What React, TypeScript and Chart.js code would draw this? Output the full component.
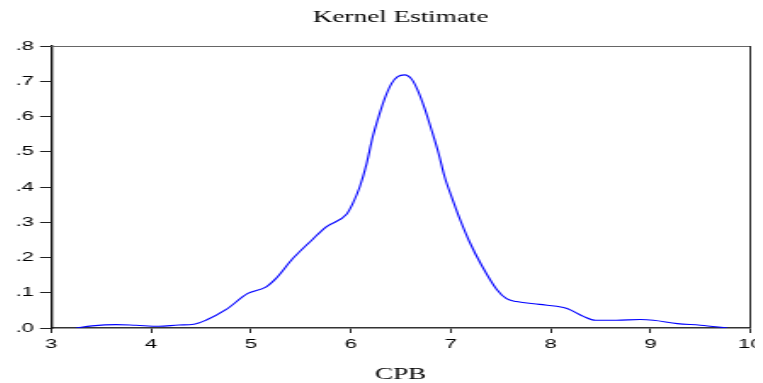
import React, { useEffect, useRef } from "react";
import { Chart, registerables } from "chart.js";

Chart.register(...registerables);

const titleText = "Kernel Estimate";
const xTitle = "CPB";

const xValues = [
  3.25, 3.41, 3.65, 3.85, 4.08, 4.28, 4.43, 4.55, 4.75, 4.97, 5.15, 5.25, 5.42, 5.62, 5.755,
  5.956, 6.02, 6.09, 6.16, 6.22, 6.29, 6.34, 6.41, 6.47, 6.54, 6.61, 6.67, 6.74, 6.81, 6.88, 6.94,
  7.01, 7.09, 7.19, 7.31, 7.46, 7.56, 7.66, 7.89, 8.13, 8.21, 8.33, 8.45, 8.66, 8.9, 9.03, 9.27,
  9.5, 9.77,
];
const densityValues = [
  0.0, 0.006, 0.0096, 0.0077, 0.005, 0.0085, 0.0105, 0.022, 0.052, 0.098, 0.116, 0.14, 0.197,
  0.252, 0.287, 0.322, 0.353, 0.4, 0.467, 0.542, 0.609, 0.651, 0.694, 0.713, 0.718, 0.706, 0.675,
  0.623, 0.561, 0.495, 0.429, 0.372, 0.311, 0.244, 0.178, 0.11, 0.083, 0.075, 0.067, 0.058, 0.05,
  0.033, 0.022, 0.022, 0.024, 0.022, 0.0125, 0.008, 0.0,
];

const xMin = 3;
const xMax = 10;
const yMin = 0;
const yMax = 0.8;

const fmtY = (v: number) => {
  const s = v.toFixed(1);
  return s.startsWith("0") ? s.slice(1) : s;
};

const framePlugin = {
  id: "frame",
  afterDraw(chart: any) {
    const { ctx, chartArea } = chart;
    ctx.save();
    ctx.strokeStyle = "#666";
    ctx.lineWidth = 1;
    ctx.beginPath();
    ctx.moveTo(chartArea.left, chartArea.top + 0.5);
    ctx.lineTo(chartArea.right, chartArea.top + 0.5);
    ctx.stroke();
    ctx.strokeStyle = "#222";
    ctx.lineWidth = 1;
    ctx.beginPath();
    ctx.moveTo(chartArea.right, chartArea.top);
    ctx.lineTo(chartArea.right, chartArea.bottom);
    ctx.stroke();
    ctx.restore();
  },
};

// internal canvas is narrower and stretched horizontally by CSS, like the reference
const INTERNAL_W = 444;
const DISPLAY_W = 755;
const H = 375;

export default function App() {
  const ref = useRef<HTMLCanvasElement>(null);
  useEffect(() => {
    if (!ref.current) return;
    const chart = new Chart(ref.current, {
      type: "line",
      data: {
        datasets: [
          {
            data: xValues.map((x, i) => ({ x, y: densityValues[i] })),
            borderColor: "#0000ff",
            borderWidth: 1.1,
            pointRadius: 0,
            cubicInterpolationMode: "monotone",
            fill: false,
          },
        ],
      },
      options: {
        responsive: false,
        animation: false,
        layout: { padding: { left: 0, right: 7.5, top: 0, bottom: 0 } },
        plugins: {
          legend: { display: false },
          tooltip: { enabled: false },
          title: {
            display: true,
            fullSize: false,
            text: titleText,
            color: "#000",
            font: { family: "Liberation Serif", size: 16, weight: "normal" },
            padding: { top: 0, bottom: 18.8 },
          },
        },
        scales: {
          x: {
            type: "linear",
            min: xMin,
            max: xMax,
            afterFit: (scale: any) => {
              scale.paddingRight = 0;
              scale.paddingLeft = 0;
            },
            ticks: {
              stepSize: 1,
              color: "#000",
              font: { family: "Liberation Sans", size: 13 },
              padding: 3.5,
              maxRotation: 0,
            },
            grid: { drawOnChartArea: false, drawTicks: true, tickLength: 5, color: "#222", lineWidth: 1 },
            border: { display: true, color: "#333", width: 1.5 },
            title: {
              display: true,
              text: xTitle,
              color: "#000",
              font: { family: "Liberation Serif", size: 16, weight: "normal" },
              padding: { top: 9.2, bottom: -1 },
            },
          },
          y: {
            type: "linear",
            min: yMin,
            max: yMax,
            afterFit: (scale: any) => {
              scale.width = 25.3;
            },
            ticks: {
              stepSize: 0.1,
              color: "#000",
              font: { family: "Liberation Sans", size: 13 },
              padding: 3.5,
              callback: (v: any) => fmtY(Number(v)),
            },
            grid: { drawOnChartArea: false, drawTicks: true, tickLength: 6.5, color: "#222", lineWidth: 1 },
            border: { display: true, color: "#111", width: 1.4 },
          },
        },
      },
      plugins: [framePlugin],
    });
    return () => chart.destroy();
  }, []);
  return (
    <canvas
      ref={ref}
      width={INTERNAL_W}
      height={H}
      style={{ display: "block", width: DISPLAY_W + "px", height: H + "px" }}
    />
  );
}
